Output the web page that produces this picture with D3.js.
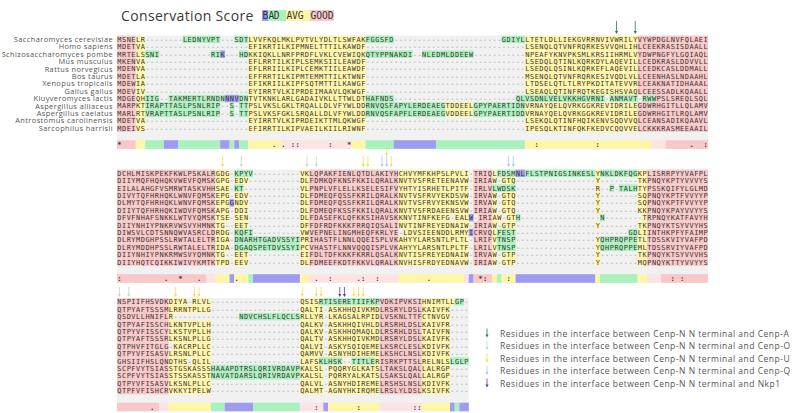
<!DOCTYPE html>
<html><head><meta charset="utf-8">
<script src="https://cdn.jsdelivr.net/npm/d3@7"></script>
<style>body{margin:0;background:#fff}svg{display:block}</style>
</head><body><svg id="c" width="800" height="413"></svg>
<script>
const g = n => "-".repeat(n);

const species = ["Saccharomyces cerevisiae","Homo sapiens","Schizosaccharomyces pombe","Mus musculus","Rattus norvegicus","Bos taurus","Xenopus tropicalis","Gallus gallus","Kluyveromyces lactis","Aspergillus alliaceus","Aspergillus caelatus","Antrostomus carolinensis","Sarcophilus harrisii"];

const block1 = [
 "MSNELR"+g(8)+"LEDNYVPT"+g(3)+"SDTLVVFKQLMKLPVTVLYDLTLSWFAKFGGSFD"+g(23)+"GDIYL"+"LTETLDLLIEKGVRRNVIVWRILYVYWPDGLNVFQLAEI",
 "MDETVA"+g(22)+"EFIKRTILKIPMNELTTTILKAWDF"+g(34)+"LSENQLQTVNFRQRKESVVQHLIHLCEEKRASISDAALL",
 "MRTELSSNI"+g(11)+"RIK"+g(3)+"HDKKIQKLLNRFPRDFLVKLCVEWIQKQTYPPNAKDI--NLEDMLDDEEW"+g(11)+"NPEAFYKNVPKSMLKRSIIHRMLVYDWPNGFYLGQIAQL",
 "MKENVA"+g(22)+"EFLRRTILKIPLSEMKSIILEAWDF"+g(34)+"LSEDQLQTINLKQRKDYLAQEVILLCEDKRASLDDVVLL",
 "MDENVA"+g(22)+"EFLRRIILKIPLCEMKTIILEAWDF"+g(34)+"LSEDQLQSINLKQRKEFLAQEVILLCEDKCASLDDMALL",
 "MDETLA"+g(22)+"EFFRRTILKIPMTEMMTTILKTWNF"+g(34)+"MSENQLQTVNFRQRKESIVQDLVLLCEENHASLNDAAHL",
 "MDEWIA"+g(22)+"EFIKRIILKIPFSQTMTTILKAWGF"+g(34)+"LTDSELQTLTLRYPKDITATEVVRLCEAKNATIDHAAAL",
 "MDEVIV"+g(22)+"EYIRRTVLKIPRDEIMAAVLQKWGF"+g(34)+"LSEAQLQTINFRQTKEGISHSVAQLCEESSADLKQAALL",
 "MDGEQHIIG--"+"TAKMERTLRNDNNNVDNTVTKNKLARLGADAIVKLLTTWLDTHAFNDS"+g(26)+"QLVSDNLVELVKKHGVRNI-ANMAVT-RWWPSLSREQLSQL",
 "MARPKTIRAPTTASLPSNLRIP--S-"+"TTPSLVKSLGKLTRQALLDLVFYWLDDRNVQSFAPYLERDEAEGTDDEELGPYPAERTIDNVRNAYQELQVRKGGKREVIDRILEGDWRHGITLLQLAMV",
 "MARLRTVRAPTTASLPSNLRIP--S-"+"TTPSLVKSFGKLSRQALLDLVFYWLDDRNVQSFAPFLERDEAEGVDDEELGPYPAERTIDDVRNAYQELQVRKGGKREVIDRILEGDWRHGITLRQLAMV",
 "MDETVA"+g(22)+"EYIRRTVLKIPRDEIKTTMLQKWGF"+g(34)+"LSEKQLQTINFHQIKENVSQDVVQLCEANSADIKQAAVL",
 "MDEIVS"+g(22)+"EFIRRTILKIPVAEILKIILRIWNF"+g(34)+"IPESQLKTINFQKFKEDVCQQVVELCKKKRASMEEAAIL"
];

const block2 = [
 "DCHLMISKPEKFKWLPSKALR"+"GDG-KPYV"+g(10)+"VKLQPAKFIENLQTDLAKIYHCHVYMFKHPSLPVLI"+"-TRIQLFDSMNL"+"FLSTPNIGSINKESLYNKLDKFQGKPLISRRPYYVAFPL",
 "DIIYMQFHQHQKVWEVFQMSK"+"GPG-EDV"+g(11)+"DLFDMKQFKNSFKKILQRALKNVTVSFRETEENAVW"+"-IRIAW-GTQ"+g(17)+"Y"+g(8)+"TKPNQYKPTYVVVYS",
 "EILALAHGFVSMRWTASKVHH"+"SAE-KT"+g(12)+"VLPNPLVFLELLKSELESIFVYHTYISRHETLPITF"+"-IRLVLWDSK"+g(17)+"R--P-TALH"+"TYPSSKQIFYLGLMD",
 "DIVYTQFHRHQKLWNVFQMSK"+"EPG-EDV"+g(11)+"DLFDMEQFQSSFKRILQRALKNVTVSFRVYEKDSVW"+"-IRVAW-GTQ"+g(17)+"Y"+g(8)+"SQPNQYKPTFVVYYP",
 "DLMYTQFHRHQKLWNVFQMSK"+"EPGGNDV"+g(11)+"DLFDMEQFQSSFKRILQRALKNVTVSFRVYEKNSVW"+"-IRVAW-GTQ"+g(17)+"Y"+g(8)+"SQPNQYKPTFVVYYP",
 "DIIYTQFHRHQKIWDVFQMSK"+"APG-DDI"+g(11)+"DLFDMEQFKSSFKKILQRALKNVTVSFRDAEENSVW"+"-IRIAW-GTQ"+g(17)+"Y"+g(8)+"KKPNQYKPAYVVYYS",
 "DFVFNHAFSNKKLWTVYQMSK"+"TSE-SEN"+g(11)+"DLFDASEFKLQFKKSIHAVSKKNVTINFKEFG-EALW"+"-IRIAW-GTH"+g(17)+"N"+g(8)+"TRPNQYKATFAVYHS",
 "DIIYNHIYPNKRVWSVYHMNK"+"TG--EET"+g(11)+"DFFDFRDFKKKFRRQIQSALINVTINFREYEDNAIW"+"-IRIAW-GTP"+g(17)+"Y"+g(8)+"TKPNQYKTSYVVYHS",
 "DIWSVLCDTSNNQWVASRCLD"+"RDG-KQFI"+g(10)+"VWVEPNELINGMHEQFKRLYE-LDVSIEENDDLRMY"+"ICRVQLFEST"+g(24)+"GD"+"LIINTHKPFYFAIMP",
 "DLRYMDGHPSSLRWTALELTR"+"IGA-DNARHTGADVSSYI"+"PRIHASTFLNNLQQEISPLVKAHYYLARSNTLPLTL"+"-LRIFVTNSP"+g(17)+"YQHPRQPPE"+"TLTDSSKVIYVAFPD",
 "DLRYMDDHPSSLRWTALELTR"+"IDA-DGAQSPETDVSSYI"+"PCVHASTFLNNVQQQISPLVKAHYYLARSNTLPLTF"+"-LRILVTNSP"+g(17)+"YQHPRQPPE"+"MLTDSSRVIYVAFPD",
 "DIIYNHIYPNKRMWSVYQMNK"+"TG--EET"+g(11)+"EIFDLTDFKKKFKRRLQSALKNVTISFREYEDNAIW"+"-IRVAW-GTP"+g(17)+"Y"+g(8)+"TKPNQYKTSYVVVHS",
 "DIIYHQTCQIKKIWIVYKMTK"+"TPD-EEV"+g(11)+"DLFDMEEFKDTFKKVLQRALKNVHISFRDYEDNAVW"+"-IRIAW-GTP"+g(17)+"Y"+g(8)+"MQPNQYKTTYVVYYS"
];

const block3 = [
 "NSPIIFHSVDKDIYA-RLVL"+g(19)+"QSISRTISERETIIFKPVDKIPVKSIHNIMTLLGP-",
 "QTPYAFTSSSMLRRNTPLLG"+g(19)+"QALTI-ASKHHQIVKMDLRSRYLDSLKAIVFK"+g(4),
 "QSDVLLHNIFLR"+g(14)+"NDVCHSLFLQCLS"+"RLLYR-LKAGSALRPIDLVSKNLTTFCTNVGV"+g(4),
 "QTPYAFISSCHLKNTVPLLH"+g(19)+"QALKV-ASKHHQIVHLDLRSRHLDSLKAIVFR"+g(4),
 "QTPYVFISSCYLKSTVPLLH"+g(19)+"QALKV-ASKHHQMAQLDLRSRHLDSLTAIVFN"+g(4),
 "QTPYAFTSSSRLKSNLPLLG"+g(19)+"QALTV-ASKHHQIVKMDLRSRYLDSLKAIVFK"+g(4),
 "QTPHVFITGLG-KACRPLLC"+g(19)+"QALVI-ASKYSQIQEMELKSRCLESLKDIVFK"+g(4),
 "QTPYVFISASVLRSNLPLLC"+g(19)+"QAMVV-ASNYHDIHEMELKSHCLNSLKDIVFK"+g(4),
 "GHSIIFHSLQNDTHS-QLIL"+g(19)+"LAFSKLHSK--TITLERISRKPTTSLRELNLSLGLP",
 "SCPFVYTSIASSTGSKASSS"+"HAAAPDTRSLQRIVRDAVP"+"KALSL-PQQRYGLKATSLTAKSLQALLALRGP"+g(4),
 "SCPFVYTSIASSTSSKASST"+"NAVATDARSLQRIVRDAVP"+"KALSL-PQRRYALKATSLSAKSLQALLALRGP"+g(4),
 "QTPYVFISASVLKSNLPLLC"+g(19)+"QALVL-ASNYHDIREMELRSHSLNSLKDIVFK"+g(4),
 "QTPFVFISHCRVKKYIPELW"+g(19)+"QALMT-AGNYHKIRQMELRSLYLDSLKSIVFK"+g(4)
];

// score levels: 0 bad(blue) 1 green 2 avg(yellow) 3 light pink 4 good(pink)
const res1 = [[0,3,4],[4,5,2],[6,27,1],[28,52,2],[53,86,1],[87,110,2],[111,125,4]];
const rowRes1 = [[8,85,114,1],[9,70,75,2],[10,70,75,2]];
const blue1 = [[2,22],[8,23],[8,24],[8,25]];
const bar1 = [[0,3,4],[4,5,2],[6,9,1],[10,12,0],[13,21,1],[22,23,0],[24,24,1],[25,25,0],[26,27,1],[28,34,2],[35,49,3],[50,52,2],[53,58,1],[59,67,0],[68,86,1],[87,113,2],[114,116,3],[117,125,4]];
const marks1 = [[0,"*"],[33,"."],[35,"."],[37,":"],[38,":"],[45,":"],[49,"*"],[89,":"],[102,":"],[122,"."],[125,":"]];
const arrows1 = [[106,"A",0],[110,"A",0]];

const res2 = [[0,20,4],[21,27,2],[28,38,1],[39,40,2],[41,59,4],[60,74,2],[75,75,0],[76,79,4],[80,84,2],[85,101,1],[102,102,2],[103,110,1],[111,112,2],[113,125,4]];
const rowRes2 = [[0,25,28,1],[2,25,26,1],[8,25,28,1],[9,25,38,1],[10,25,38,1],[0,81,84,1],[2,80,84,1],[8,81,84,1],[9,81,84,1],[10,81,84,1]];
const blue2 = [[4,24],[0,85],[0,86],[8,75]];
const bar2 = [[0,18,4],[19,20,3],[21,23,2],[24,24,0],[25,27,2],[28,28,1],[29,38,0],[39,40,2],[41,59,3],[60,73,2],[74,74,3],[75,75,0],[76,79,4],[80,80,2],[81,81,1],[82,84,2],[85,101,0],[102,102,2],[103,110,1],[111,112,2],[113,115,3],[116,125,4]];
const marks2 = [[0,":"],[10,"."],[13,"*"],[17,"."],[25,"."],[42,"."],[45,":"],[51,"."],[52,":"],[55,":"],[66,"."],[77,"*"],[78,":"],[83,":"],[118,":"],[120,":"]];
const arrows2 = [[22,"U",0],[26,"O",0],[40,"O",0],[42,"O",0],[52,"U",0],[53,"U",0],[56,"Q",0],[57,"Q",0],[57,"U",1],[58,"U",0],[83,"Q",0],[84,"Q",0]];

const res3 = [[0,10,4],[11,19,2],[20,38,1],[39,55,2],[56,64,4],[65,74,2]];
const rowRes3 = [[0,43,55,1],[0,72,74,1],[8,43,54,1],[8,71,74,1]];
const blue3 = [];
const bar3 = [[0,8,4],[9,10,3],[11,19,2],[20,22,1],[23,28,0],[29,38,1],[39,43,3],[44,44,0],[45,55,2],[56,64,3],[65,70,2],[71,71,0],[72,72,1],[73,74,0]];
const marks3 = [[7,"."],[42,":"],[51,":"],[63,":"],[64,":"]];
const arrows3 = [[0,"O",0],[2,"O",0],[12,"U",0],[16,"U",0],[17,"U",0],[39,"U",0],[42,"U",0],[43,"U",0],[47,"N",0],[48,"N",0],[50,"U",0],[51,"U",0],[52,"U",0]];

const legendKeys = ["A","O","U","Q","N"];
const legendLabels = [
 "Residues in the interface between Cenp-N N terminal and Cenp-A",
 "Residues in the interface between Cenp-N N terminal and Cenp-O",
 "Residues in the interface between Cenp-N N terminal and Cenp-U",
 "Residues in the interface between Cenp-N N terminal and Cenp-Q",
 "Residues in the interface between Cenp-N N terminal and Nkp1"
];
const scoreLabel = [["B",0],["AD ",1],["AVG ",2],["GOOD",4]];

// ---- styling / layout ----
const levelColor = ["#9e9cf0","#a9f1bd","#fff6a8","#fde3e3","#f8c7c7"];
const arrowColor = {A:"#2d7a50",O:"#bcdcbc",U:"#f2e046",Q:"#a8c8e8",N:"#5a3e9e"};
const CW = 4.69, RH = 7.4, X0 = 117;
const mono = "'DejaVu Sans Mono', monospace";
const sans = "'Open Sans', sans-serif";

const svg = d3.select("#c");

// title + score key
svg.append("text").attr("x",121).attr("y",20.5).attr("font-family",sans)
  .attr("font-size",14).attr("letter-spacing",0.35).attr("fill","#3a3a3a").text("Conservation Score");
let kx = 262;
const key = svg.append("g");
scoreLabel.forEach(([t,l])=>{
  const w = t.length*6;
  key.append("rect").attr("x",kx).attr("y",10).attr("width",w).attr("height",11).attr("fill",levelColor[l]);
  key.append("text").attr("x",kx+0.5).attr("y",19).attr("font-family",mono).attr("font-size",9.6)
    .attr("fill","#333").attr("textLength",t.trim().length*6-1).text(t.trim());
  kx += w;
});

const blocks = [
 {seqs:block1,n:126,top:35.6,res:res1,rowRes:rowRes1,blue:blue1,bar:bar1,marks:marks1,arrows:arrows1,ay:[[21,34]],names:true},
 {seqs:block2,n:126,top:169.6,res:res2,rowRes:rowRes2,blue:blue2,bar:bar2,marks:marks2,arrows:arrows2,ay:[[156,167],[146,156]]},
 {seqs:block3,n:75,top:298.1,res:res3,rowRes:rowRes3,blue:blue3,bar:bar3,marks:marks3,arrows:arrows3,ay:[[287,297]]}
];

function drawArrow(gr,x,y0,y1,col){
  gr.append("line").attr("x1",x).attr("x2",x).attr("y1",y0).attr("y2",y1-2.5)
    .attr("stroke",col).attr("stroke-width",0.8);
  gr.append("path").attr("d",`M${x-1.6},${y1-3}L${x+1.6},${y1-3}L${x},${y1}Z`).attr("fill",col);
}

blocks.forEach(b=>{
  const x = d3.scaleLinear().domain([0,b.n]).range([X0, X0+b.n*CW]);
  const y = d3.scaleBand().domain(d3.range(b.seqs.length)).range([b.top, b.top+b.seqs.length*RH]);
  const rowsBottom = b.top+b.seqs.length*RH;
  const barTop = rowsBottom+8.4, barH = 8.6;
  const G = svg.append("g");
  G.append("rect").attr("x",x(0)).attr("y",b.top).attr("width",x(b.n)-x(0))
    .attr("height",barTop+barH-b.top).attr("fill","#f1f1f1");

  const colLevel = c => { const s=b.res.find(s=>c>=s[0]&&c<=s[1]); return s?s[2]:2; };
  const cellLevel = (r,c) => {
    if (b.blue.some(d=>d[0]===r&&d[1]===c)) return 0;
    let l = colLevel(c);
    b.rowRes.forEach(s=>{ if(s[0]===r&&c>=s[1]&&c<=s[2]) l=s[3]; });
    return l;
  };
  const cells = [];
  b.seqs.forEach((s,r)=>{
    const seq = s.padEnd(b.n,"-").slice(0,b.n);
    for (let c=0;c<b.n;c++) cells.push({r,c,ch:seq[c]});
  });
  G.selectAll("rect.cell").data(cells.filter(d=>d.ch!=="-")).join("rect").attr("class","cell")
    .attr("x",d=>x(d.c)).attr("y",d=>y(d.r)).attr("width",CW+0.05).attr("height",RH+0.05)
    .attr("fill",d=>levelColor[cellLevel(d.r,d.c)]);
  G.selectAll("text.res").data(cells).join("text").attr("class","res")
    .attr("x",d=>x(d.c)+CW/2).attr("y",d=>y(d.r)+RH/2+2.5)
    .attr("text-anchor","middle").attr("font-family",mono).attr("font-size",6.9)
    .attr("fill",d=>d.ch==="-"?"#8c8c8c":"#3d3535").text(d=>d.ch);

  // conservation bar
  G.selectAll("rect.bar").data(b.bar).join("rect").attr("class","bar")
    .attr("x",d=>x(d[0])).attr("y",barTop).attr("width",d=>x(d[1]+1)-x(d[0])+0.05).attr("height",barH)
    .attr("fill",d=>levelColor[d[2]]);
  G.selectAll("text.mk").data(b.marks).join("text").attr("class","mk")
    .attr("x",d=>x(d[0])+CW/2).attr("y",barTop+barH/2+2.5).attr("text-anchor","middle")
    .attr("font-family",mono).attr("font-size",7.1).attr("font-weight","bold").attr("fill","#333").text(d=>d[1]);

  // arrows
  b.arrows.forEach(([c,k,l])=>{
    const [y0,y1] = b.ay[l];
    drawArrow(G, x(c)+CW/2, y0, y1, arrowColor[k]);
  });

  if (b.names) {
    G.selectAll("text.nm").data(species).join("text").attr("class","nm")
      .attr("x",113).attr("y",(d,i)=>y(i)+RH/2+2.6).attr("text-anchor","end")
      .attr("font-family",sans).attr("font-size",7.4).attr("letter-spacing",0.42)
      .attr("fill","#555").text(d=>d);
  }
});

// legend
const ly = d3.scalePoint().domain(d3.range(legendKeys.length)).range([333.5,383.5]);
const L = svg.append("g");
legendKeys.forEach((k,i)=>{
  drawArrow(L, 487, ly(i)-5, ly(i)+4, arrowColor[k]);
  L.append("text").attr("x",500).attr("y",ly(i)+3).attr("font-family",sans)
    .attr("font-size",8.5).attr("letter-spacing",0.5).attr("fill","#555").text(legendLabels[i]);
});
</script></body></html>
